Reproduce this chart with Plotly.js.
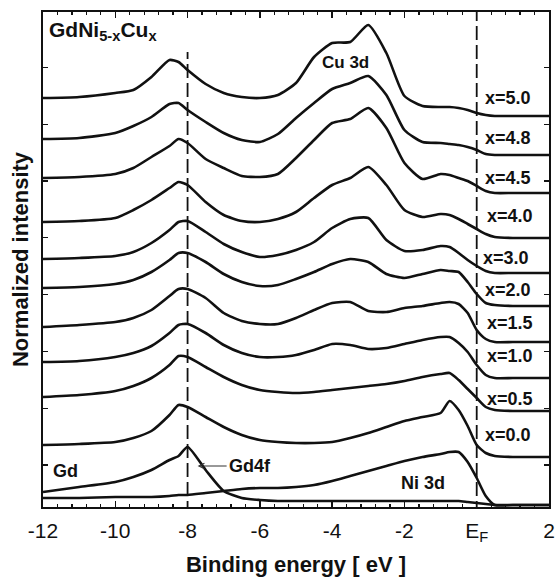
<!DOCTYPE html>
<html><head><meta charset="utf-8">
<script src="https://cdn.plot.ly/plotly-3.0.1.min.js"></script>
<style>html,body{margin:0;padding:0;background:#fff}</style>
</head><body>
<div id="chart" style="width:555px;height:577px"></div>
<script>
// Binding energy grid (eV)
const energy = [-12, -11, -10, -9.5, -9, -8.5, -8.25, -8, -7.5, -7, -6.5, -6, -5.5, -5, -4.5, -4, -3.5, -3, -2.5, -2, -1.5, -1, -0.75, -0.5, -0.25, 0, 0.25, 0.5, 1, 1.5, 2];

// Stacked (offset) normalized intensities, arbitrary units
const x50 = [409,410,414,417,430,447,445,437,423,414,410,409,412,424,450,464,465,482,454,411,401,400,400,399,397,394,392,391,391,391,391];
const x48 = [368,369,374,381,390,403,404,397,385,374,367,365,373,389,404,418,424,431,412,377,365,364,363,362,360,357,353,352,352,352,352];
const x45 = [329,330,333,339,350,361,368,364,348,339,331,330,333,349,367,384,388,399,379,344,328,333,332,329,326,321,316,314,314,314,314];
const x40 = [285,286,289,297,307,319,325,322,305,292,286,285,288,295,309,322,329,340,322,297,290,293,292,288,283,278,273,270,269,269,269];
const x30 = [248,249,251,255,264,277,285,286,275,263,255,250,252,257,265,279,288,289,267,256,257,261,260,254,247,241,236,234,234,234,234];
const x20 = [219,220,223,227,235,247,254,254,245,233,225,221,222,228,235,243,248,245,233,229,233,237,236,235,225,213,204,202,201,201,201];
const x15 = [180,182,185,189,197,211,218,218,209,194,186,183,183,189,197,204,205,196,195,199,201,204,205,203,194,177,168,165,165,165,165];
const x10 = [145,146,150,154,161,174,182,183,174,162,154,150,150,152,157,163,162,158,159,163,167,170,170,164,155,142,132,129,129,129,129];
const x05 = [110,112,116,121,129,142,151,150,140,130,122,117,115,114,115,117,119,121,123,126,130,133,134,127,118,109,100,97,96,96,96];
const x00 = [62,63,65,69,76,92,102,100,90,80,72,67,65,64,64,65,69,74,80,86,90,94,106,97,81,62,54,51,50,50,50];
const gdMetal = [15,20,25,30,37,47,51,60,37,16,9,7,6,6,6,6,6,6,6,6,6,6,6,6,5,4,3,2,2,2,2];
const ni3d = [9,9,10,10,10,11,12,12,14,16,18,19,19,20,22,26,31,36,41,46,50,53,55,55,45,29,11,2,2,2,2];

const seriesNames = ['x=5.0','x=4.8','x=4.5','x=4.0','x=3.0','x=2.0','x=1.5','x=1.0','x=0.5','x=0.0','Gd','Ni 3d'];
const seriesValues = [x50, x48, x45, x40, x30, x20, x15, x10, x05, x00, gdMetal, ni3d];

const tickVals = [-12, -10, -8, -6, -4, -2, 0, 2];
const tickText = ['-12', '-10', '-8', '-6', '-4', '-2', 'E<sub>F</sub>', '2'];
const refLines = [-8, 0]; // Gd 4f position and Fermi level

const FONT = '"Liberation Sans", Arial, sans-serif';

const traces = seriesValues.map((v, i) => ({
  x: energy, y: v, type: 'scatter', mode: 'lines', name: seriesNames[i],
  line: {color: '#111', width: 2.6, shape: 'spline', smoothing: 0.6},
  hoverinfo: 'skip', showlegend: false
}));

const shapes = refLines.map((e, i) => ({
  type: 'line', xref: 'x', yref: 'y', x0: e, x1: e,
  y0: -8, y1: i === 0 ? 455 : 497,
  line: {color: '#111', width: 1.8, dash: '14px,5px'}
}));

function lab(text, x, y, size, extra) {
  return Object.assign({text: text, x: x, y: y, xref: 'x', yref: 'y', showarrow: false,
    font: {family: FONT, size: size, color: '#111', weight: 'bold'}}, extra || {});
}

const annotations = [
  lab('GdNi<sub>5-x</sub>Cu<sub>x</sub>', -11.9, 476, 21, {xanchor: 'left', yanchor: 'middle'}),
  lab('Cu 3d', -3.62, 445, 17),
  lab('x=5.0', 0.86, 409, 18),
  lab('x=4.8', 0.86, 369, 18),
  lab('x=4.5', 0.86, 329, 18),
  lab('x=4.0', 0.92, 291, 18),
  lab('x=3.0', 0.82, 249, 18),
  lab('x=2.0', 0.86, 217, 18),
  lab('x=1.5', 0.92, 184, 18),
  lab('x=1.0', 0.92, 151, 18),
  lab('x=0.5', 0.92, 108, 18),
  lab('x=0.0', 0.86, 72, 18),
  lab('Gd', -11.39, 36, 18),
  lab('Ni 3d', -1.49, 24, 18),
  lab('Gd4f', -6.78, 41, 18, {xanchor: 'left', showarrow: true, axref: 'pixel', ax: 0, ay: 0})
];
// open arrow head for Gd4f pointing left at the Gd curve
annotations[annotations.length - 1] = Object.assign(annotations[annotations.length - 1], {
  x: -7.75, ax: 30, ay: 0, arrowhead: 5, arrowsize: 1.1, arrowwidth: 1, arrowcolor: '#333', standoff: 1
});

const layout = {
  width: 555, height: 577,
  margin: {l: 43, r: 6, t: 12, b: 70},
  paper_bgcolor: '#fff', plot_bgcolor: '#fff',
  showlegend: false,
  xaxis: {
    range: [-12, 2], tickmode: 'array', tickvals: tickVals, ticktext: tickText,
    ticks: 'inside', ticklen: 6, tickwidth: 1.3, tickcolor: '#111',
    minor: {dtick: 0.4, tick0: -12, ticks: 'inside', ticklen: 3, tickcolor: '#111', showgrid: false},
    showline: true, linecolor: '#111', linewidth: 1.8, mirror: 'ticks',
    showgrid: false, zeroline: false, ticklabelstandoff: 4, ticklabeloverflow: 'allow',
    tickfont: {family: FONT, size: 21, color: '#111'},
    title: {text: 'Binding energy [ eV ]', font: {family: FONT, size: 22, color: '#111', weight: 'bold'}, standoff: 13}
  },
  yaxis: {
    range: [0, 495], tickmode: 'linear', tick0: 42, dtick: 56.8,
    ticks: 'inside', ticklen: 5, tickwidth: 1.3, tickcolor: '#111',
    showticklabels: false,
    showline: true, linecolor: '#111', linewidth: 1.8, mirror: 'ticks',
    showgrid: false, zeroline: false,
    title: {text: 'Normalized intensity', font: {family: FONT, size: 22, color: '#111', weight: 'bold'}, standoff: 6}
  },
  shapes: shapes,
  annotations: annotations
};

Plotly.newPlot('chart', traces, layout, {displayModeBar: false, staticPlot: true});
</script>
</body></html>
